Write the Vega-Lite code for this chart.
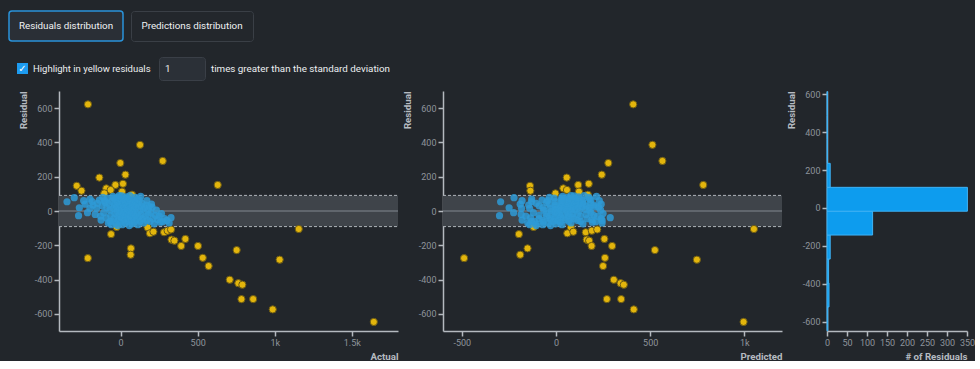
{
"$schema":"https://vega.github.io/schema/vega-lite/v6.json",
"background":"#22262b",
"padding":{"left":8,"top":10,"right":0,"bottom":0},
"spacing":9,
"datasets":{
"tab_active":[{"tab":"Residuals distribution"}],
"tab_inactive":[{"tab":"Predictions distribution"}],
"checkbox":[{"state":"checked","symbol":"✓"}],
"option_label":[{"text":"Highlight in yellow residuals"}],
"threshold":[{"value":"1"}],
"option_suffix":[{"text":"times greater than the standard deviation"}],
"band":[{"lower":-91,"upper":91}],
"hist":[{"bin_start":-649,"bin_end":-523,"count":2},{"bin_start":-523,"bin_end":-396,"count":5},{"bin_start":-396,"bin_end":-270,"count":4},{"bin_start":-270,"bin_end":-143,"count":8},{"bin_start":-143,"bin_end":-17,"count":114},{"bin_start":-17,"bin_end":109,"count":351},{"bin_start":109,"bin_end":236,"count":8},{"bin_start":236,"bin_end":362,"count":1},{"bin_start":362,"bin_end":489,"count":1},{"bin_start":489,"bin_end":615,"count":1}],
"points":[
{"actual":-212,"predicted":410,"residual":622,"group":"outside"},
{"actual":126,"predicted":512,"residual":386,"group":"outside"},
{"actual":273,"predicted":565,"residual":292,"group":"outside"},
{"actual":-2,"predicted":278,"residual":280,"group":"outside"},
{"actual":31,"predicted":243,"residual":212,"group":"outside"},
{"actual":-138,"predicted":57,"residual":195,"group":"outside"},
{"actual":-285,"predicted":-138,"residual":147,"group":"outside"},
{"actual":-254,"predicted":-136,"residual":118,"group":"outside"},
{"actual":15,"predicted":174,"residual":159,"group":"outside"},
{"actual":-34,"predicted":118,"residual":152,"group":"outside"},
{"actual":630,"predicted":782,"residual":152,"group":"outside"},
{"actual":-93,"predicted":39,"residual":132,"group":"outside"},
{"actual":-65,"predicted":58,"residual":123,"group":"outside"},
{"actual":-106,"predicted":-3,"residual":103,"group":"outside"},
{"actual":9,"predicted":122,"residual":113,"group":"outside"},
{"actual":74,"predicted":169,"residual":95,"group":"outside"},
{"actual":-26,"predicted":-119,"residual":-93,"group":"outside"},
{"actual":-62,"predicted":-197,"residual":-135,"group":"outside"},
{"actual":175,"predicted":79,"residual":-96,"group":"outside"},
{"actual":190,"predicted":60,"residual":-130,"group":"outside"},
{"actual":213,"predicted":92,"residual":-121,"group":"outside"},
{"actual":282,"predicted":158,"residual":-124,"group":"outside"},
{"actual":305,"predicted":190,"residual":-115,"group":"outside"},
{"actual":327,"predicted":219,"residual":-108,"group":"outside"},
{"actual":330,"predicted":163,"residual":-167,"group":"outside"},
{"actual":349,"predicted":176,"residual":-173,"group":"outside"},
{"actual":420,"predicted":257,"residual":-163,"group":"outside"},
{"actual":393,"predicted":189,"residual":-204,"group":"outside"},
{"actual":502,"predicted":298,"residual":-204,"group":"outside"},
{"actual":67,"predicted":-151,"residual":-218,"group":"outside"},
{"actual":65,"predicted":-190,"residual":-255,"group":"outside"},
{"actual":-213,"predicted":-488,"residual":-275,"group":"outside"},
{"actual":533,"predicted":260,"residual":-273,"group":"outside"},
{"actual":571,"predicted":250,"residual":-321,"group":"outside"},
{"actual":753,"predicted":525,"residual":-228,"group":"outside"},
{"actual":708,"predicted":307,"residual":-401,"group":"outside"},
{"actual":764,"predicted":343,"residual":-421,"group":"outside"},
{"actual":790,"predicted":360,"residual":-430,"group":"outside"},
{"actual":784,"predicted":270,"residual":-514,"group":"outside"},
{"actual":860,"predicted":346,"residual":-514,"group":"outside"},
{"actual":987,"predicted":413,"residual":-574,"group":"outside"},
{"actual":1032,"predicted":748,"residual":-284,"group":"outside"},
{"actual":1156,"predicted":1051,"residual":-105,"group":"outside"},
{"actual":1643,"predicted":996,"residual":-647,"group":"outside"},
{"actual":-348,"predicted":-294,"residual":54,"group":"inside"},
{"actual":-301,"predicted":-223,"residual":78,"group":"inside"},
{"actual":-268,"predicted":-249,"residual":19,"group":"inside"},
{"actual":-273,"predicted":-300,"residual":-27,"group":"inside"},
{"actual":-199,"predicted":-129,"residual":70,"group":"inside"},
{"actual":-199,"predicted":-183,"residual":16,"group":"inside"},
{"actual":-138,"predicted":-74,"residual":64,"group":"inside"},
{"actual":-156,"predicted":-140,"residual":16,"group":"inside"},
{"actual":-127,"predicted":-180,"residual":-53,"group":"inside"},
{"actual":-180,"predicted":-145,"residual":35,"group":"inside"},
{"actual":-165,"predicted":-185,"residual":-20,"group":"inside"},
{"actual":-150,"predicted":-105,"residual":45,"group":"inside"},
{"actual":-120,"predicted":-90,"residual":30,"group":"inside"},
{"actual":-110,"predicted":-120,"residual":-10,"group":"inside"},
{"actual":-105,"predicted":-45,"residual":60,"group":"inside"},
{"actual":-95,"predicted":-135,"residual":-40,"group":"inside"},
{"actual":-90,"predicted":-70,"residual":20,"group":"inside"},
{"actual":-85,"predicted":-10,"residual":75,"group":"inside"},
{"actual":-80,"predicted":-150,"residual":-70,"group":"inside"},
{"actual":-75,"predicted":-35,"residual":40,"group":"inside"},
{"actual":-70,"predicted":-65,"residual":5,"group":"inside"},
{"actual":-65,"predicted":-90,"residual":-25,"group":"inside"},
{"actual":-60,"predicted":-5,"residual":55,"group":"inside"},
{"actual":-55,"predicted":-115,"residual":-60,"group":"inside"},
{"actual":-50,"predicted":35,"residual":85,"group":"inside"},
{"actual":-48,"predicted":-33,"residual":15,"group":"inside"},
{"actual":-45,"predicted":-90,"residual":-45,"group":"inside"},
{"actual":-40,"predicted":-5,"residual":35,"group":"inside"},
{"actual":-38,"predicted":-53,"residual":-15,"group":"inside"},
{"actual":-35,"predicted":30,"residual":65,"group":"inside"},
{"actual":-30,"predicted":-105,"residual":-75,"group":"inside"},
{"actual":-28,"predicted":-3,"residual":25,"group":"inside"},
{"actual":-25,"predicted":-25,"residual":0,"group":"inside"},
{"actual":-22,"predicted":28,"residual":50,"group":"inside"},
{"actual":-20,"predicted":-50,"residual":-30,"group":"inside"},
{"actual":-18,"predicted":62,"residual":80,"group":"inside"},
{"actual":-15,"predicted":-70,"residual":-55,"group":"inside"},
{"actual":-12,"predicted":-2,"residual":10,"group":"inside"},
{"actual":-10,"predicted":30,"residual":40,"group":"inside"},
{"actual":-8,"predicted":-28,"residual":-20,"group":"inside"},
{"actual":-5,"predicted":65,"residual":70,"group":"inside"},
{"actual":-3,"predicted":-68,"residual":-65,"group":"inside"},
{"actual":0,"predicted":30,"residual":30,"group":"inside"},
{"actual":0,"predicted":-5,"residual":-5,"group":"inside"},
{"actual":2,"predicted":57,"residual":55,"group":"inside"},
{"actual":4,"predicted":-36,"residual":-40,"group":"inside"},
{"actual":6,"predicted":21,"residual":15,"group":"inside"},
{"actual":8,"predicted":96,"residual":88,"group":"inside"},
{"actual":10,"predicted":-70,"residual":-80,"group":"inside"},
{"actual":12,"predicted":57,"residual":45,"group":"inside"},
{"actual":14,"predicted":4,"residual":-10,"group":"inside"},
{"actual":16,"predicted":36,"residual":20,"group":"inside"},
{"actual":18,"predicted":83,"residual":65,"group":"inside"},
{"actual":20,"predicted":-30,"residual":-50,"group":"inside"},
{"actual":22,"predicted":27,"residual":5,"group":"inside"},
{"actual":24,"predicted":99,"residual":75,"group":"inside"},
{"actual":26,"predicted":-4,"residual":-30,"group":"inside"},
{"actual":28,"predicted":63,"residual":35,"group":"inside"},
{"actual":30,"predicted":-40,"residual":-70,"group":"inside"},
{"actual":32,"predicted":82,"residual":50,"group":"inside"},
{"actual":34,"predicted":19,"residual":-15,"group":"inside"},
{"actual":36,"predicted":61,"residual":25,"group":"inside"},
{"actual":38,"predicted":120,"residual":82,"group":"inside"},
{"actual":40,"predicted":-5,"residual":-45,"group":"inside"},
{"actual":42,"predicted":52,"residual":10,"group":"inside"},
{"actual":44,"predicted":104,"residual":60,"group":"inside"},
{"actual":46,"predicted":-14,"residual":-60,"group":"inside"},
{"actual":48,"predicted":78,"residual":30,"group":"inside"},
{"actual":50,"predicted":25,"residual":-25,"group":"inside"},
{"actual":52,"predicted":122,"residual":70,"group":"inside"},
{"actual":54,"predicted":54,"residual":0,"group":"inside"},
{"actual":56,"predicted":-29,"residual":-85,"group":"inside"},
{"actual":58,"predicted":98,"residual":40,"group":"inside"},
{"actual":60,"predicted":25,"residual":-35,"group":"inside"},
{"actual":62,"predicted":77,"residual":15,"group":"inside"},
{"actual":64,"predicted":119,"residual":55,"group":"inside"},
{"actual":66,"predicted":11,"residual":-55,"group":"inside"},
{"actual":68,"predicted":88,"residual":20,"group":"inside"},
{"actual":70,"predicted":60,"residual":-10,"group":"inside"},
{"actual":72,"predicted":117,"residual":45,"group":"inside"},
{"actual":74,"predicted":-1,"residual":-75,"group":"inside"},
{"actual":76,"predicted":106,"residual":30,"group":"inside"},
{"actual":78,"predicted":38,"residual":-40,"group":"inside"},
{"actual":80,"predicted":85,"residual":5,"group":"inside"},
{"actual":82,"predicted":144,"residual":62,"group":"inside"},
{"actual":84,"predicted":64,"residual":-20,"group":"inside"},
{"actual":86,"predicted":121,"residual":35,"group":"inside"},
{"actual":88,"predicted":23,"residual":-65,"group":"inside"},
{"actual":90,"predicted":100,"residual":10,"group":"inside"},
{"actual":92,"predicted":142,"residual":50,"group":"inside"},
{"actual":95,"predicted":65,"residual":-30,"group":"inside"},
{"actual":98,"predicted":118,"residual":20,"group":"inside"},
{"actual":100,"predicted":50,"residual":-50,"group":"inside"},
{"actual":103,"predicted":143,"residual":40,"group":"inside"},
{"actual":106,"predicted":91,"residual":-15,"group":"inside"},
{"actual":109,"predicted":179,"residual":70,"group":"inside"},
{"actual":112,"predicted":32,"residual":-80,"group":"inside"},
{"actual":115,"predicted":140,"residual":25,"group":"inside"},
{"actual":118,"predicted":83,"residual":-35,"group":"inside"},
{"actual":121,"predicted":185,"residual":64,"group":"inside"},
{"actual":124,"predicted":124,"residual":0,"group":"inside"},
{"actual":127,"predicted":67,"residual":-60,"group":"inside"},
{"actual":130,"predicted":160,"residual":30,"group":"inside"},
{"actual":134,"predicted":114,"residual":-20,"group":"inside"},
{"actual":138,"predicted":183,"residual":45,"group":"inside"},
{"actual":142,"predicted":97,"residual":-45,"group":"inside"},
{"actual":146,"predicted":156,"residual":10,"group":"inside"},
{"actual":150,"predicted":80,"residual":-70,"group":"inside"},
{"actual":155,"predicted":175,"residual":20,"group":"inside"},
{"actual":160,"predicted":130,"residual":-30,"group":"inside"},
{"actual":165,"predicted":200,"residual":35,"group":"inside"},
{"actual":170,"predicted":115,"residual":-55,"group":"inside"},
{"actual":175,"predicted":180,"residual":5,"group":"inside"},
{"actual":180,"predicted":160,"residual":-20,"group":"inside"},
{"actual":185,"predicted":210,"residual":25,"group":"inside"},
{"actual":190,"predicted":130,"residual":-60,"group":"inside"},
{"actual":195,"predicted":185,"residual":-10,"group":"inside"},
{"actual":204,"predicted":226,"residual":22,"group":"inside"},
{"actual":210,"predicted":165,"residual":-45,"group":"inside"},
{"actual":218,"predicted":143,"residual":-75,"group":"inside"},
{"actual":225,"predicted":200,"residual":-25,"group":"inside"},
{"actual":232,"predicted":237,"residual":5,"group":"inside"},
{"actual":240,"predicted":190,"residual":-50,"group":"inside"},
{"actual":250,"predicted":220,"residual":-30,"group":"inside"},
{"actual":258,"predicted":193,"residual":-65,"group":"inside"},
{"actual":265,"predicted":250,"residual":-15,"group":"inside"},
{"actual":273,"predicted":211,"residual":-62,"group":"inside"},
{"actual":285,"predicted":240,"residual":-45,"group":"inside"},
{"actual":300,"predicted":245,"residual":-55,"group":"inside"},
{"actual":315,"predicted":245,"residual":-70,"group":"inside"},
{"actual":327,"predicted":288,"residual":-39,"group":"inside"},
{"actual":-230,"predicted":-190,"residual":40,"group":"inside"},
{"actual":-240,"predicted":-180,"residual":60,"group":"inside"},
{"actual":-215,"predicted":-225,"residual":-10,"group":"inside"},
{"actual":-185,"predicted":-130,"residual":55,"group":"inside"},
{"actual":-130,"predicted":-160,"residual":-30,"group":"inside"},
{"actual":-100,"predicted":-50,"residual":50,"group":"inside"},
{"actual":-60,"predicted":-140,"residual":-80,"group":"inside"},
{"actual":-45,"predicted":30,"residual":75,"group":"inside"},
{"actual":-20,"predicted":-105,"residual":-85,"group":"inside"},
{"actual":130,"predicted":215,"residual":85,"group":"inside"},
{"actual":60,"predicted":150,"residual":90,"group":"inside"},
{"actual":-10,"predicted":80,"residual":90,"group":"inside"},
{"actual":95,"predicted":175,"residual":80,"group":"inside"},
{"actual":170,"predicted":230,"residual":60,"group":"inside"},
{"actual":-115,"predicted":-35,"residual":80,"group":"inside"},
{"actual":-70,"predicted":-130,"residual":-60,"group":"inside"},
{"actual":200,"predicted":240,"residual":40,"group":"inside"}
]
},
"vconcat":[
{"spacing":14,"vconcat":[
{"spacing":6,"hconcat":[
 {"width":114,"height":30,"data":{"name":"tab_active"},"view":{"fill":"#2a2f36","stroke":"#2a93da","strokeWidth":1.5,"cornerRadius":3},
  "mark":{"type":"text","fontSize":9.8,"fontWeight":"normal","color":"#f0f2f4"},"encoding":{"text":{"field":"tab"}}},
 {"width":122,"height":30,"data":{"name":"tab_inactive"},"view":{"fill":"#23272c","stroke":"#3a3f46","strokeWidth":1,"cornerRadius":3},
  "mark":{"type":"text","fontSize":9.8,"fontWeight":"normal","color":"#f0f2f4"},"encoding":{"text":{"field":"tab"}}}
]},
{"spacing":5,"hconcat":[
 {"width":19,"height":23,"data":{"name":"checkbox"},"layer":[
  {"mark":{"type":"point","shape":"square","filled":true,"size":121,"color":"#1d9bf0","opacity":1},
   "encoding":{"x":{"field":"state","type":"nominal","scale":{"align":0.71},"axis":null}}},
  {"mark":{"type":"text","fontSize":10,"fontWeight":"bold","color":"#ffffff","font":"DejaVu Sans"},
   "encoding":{"x":{"field":"state","type":"nominal","scale":{"align":0.71},"axis":null},"text":{"field":"symbol"}}}
 ]},
 {"width":120,"height":23,"data":{"name":"option_label"},"mark":{"type":"text","align":"left","fontSize":9.5,"fontWeight":"normal","color":"#eceef0"},
  "encoding":{"x":{"field":"text","type":"nominal","scale":{"align":0},"axis":null},"text":{"field":"text"}}},
 {"width":46,"height":23,"data":{"name":"threshold"},"view":{"fill":"#2b3037","stroke":"#3a3f47","cornerRadius":3},
  "mark":{"type":"text","align":"left","fontSize":9.8,"fontWeight":"normal","color":"#eceef0"},
  "encoding":{"x":{"field":"value","type":"nominal","scale":{"align":0.13},"axis":null},"text":{"field":"value"}}},
 {"width":180,"height":23,"data":{"name":"option_suffix"},"mark":{"type":"text","align":"left","fontSize":9.8,"fontWeight":"normal","color":"#eceef0"},
  "encoding":{"x":{"field":"text","type":"nominal","scale":{"align":0},"axis":null},"text":{"field":"text"}}}
]}
]},
{"spacing":3,"hconcat":[
 {"width":6,"height":240,"data":{"values":[]},"mark":"point"},
 {"width":339,"height":240,"layer":[
  {"data":{"name":"band"},"mark":{"type":"rect","color":"#3f444a"},
   "encoding":{"x":{"datum":-400,"type":"quantitative","title":"Actual","scale":{"domain":[-400,1800],"nice":false,"zero":false},"axis":{"values":[0,500,1000,1500]}},"x2":{"datum":1800},
    "y":{"field":"lower","type":"quantitative","title":"Residual","scale":{"domain":[-700,700],"nice":false,"zero":false},"axis":{"values":[-600,-400,-200,0,200,400,600]}},"y2":{"field":"upper"}}},
  {"data":{"name":"band"},"mark":{"type":"rule","color":"#60666d","strokeWidth":2},
   "encoding":{"x":{"datum":-400,"type":"quantitative","title":"Actual","scale":{"domain":[-400,1800],"nice":false,"zero":false},"axis":{"values":[0,500,1000,1500]}},"x2":{"datum":1800},
    "y":{"datum":0,"type":"quantitative","title":"Residual","scale":{"domain":[-700,700],"nice":false,"zero":false},"axis":{"values":[-600,-400,-200,0,200,400,600]}}}},
  {"data":{"name":"band"},"mark":{"type":"rule","color":"#aeb3b9","strokeWidth":1,"strokeDash":[3,2]},
   "encoding":{"x":{"datum":-400,"type":"quantitative","title":"Actual","scale":{"domain":[-400,1800],"nice":false,"zero":false},"axis":{"values":[0,500,1000,1500]}},"x2":{"datum":1800},
    "y":{"field":"lower","type":"quantitative","title":"Residual","scale":{"domain":[-700,700],"nice":false,"zero":false},"axis":{"values":[-600,-400,-200,0,200,400,600]}}}},
  {"data":{"name":"band"},"mark":{"type":"rule","color":"#aeb3b9","strokeWidth":1,"strokeDash":[3,2]},
   "encoding":{"x":{"datum":-400,"type":"quantitative","title":"Actual","scale":{"domain":[-400,1800],"nice":false,"zero":false},"axis":{"values":[0,500,1000,1500]}},"x2":{"datum":1800},
    "y":{"field":"upper","type":"quantitative","title":"Residual","scale":{"domain":[-700,700],"nice":false,"zero":false},"axis":{"values":[-600,-400,-200,0,200,400,600]}}}},
  {"data":{"name":"points"},"mark":{"type":"circle","size":52,"stroke":"#6b5a14"},
   "encoding":{"x":{"field":"actual","type":"quantitative","title":"Actual","scale":{"domain":[-400,1800],"nice":false,"zero":false},"axis":{"values":[0,500,1000,1500]}},
    "y":{"field":"residual","type":"quantitative","title":"Residual","scale":{"domain":[-700,700],"nice":false,"zero":false},"axis":{"values":[-600,-400,-200,0,200,400,600]}},
    "color":{"field":"group","type":"nominal","scale":{"domain":["outside","inside"],"range":["#e3b50c","#2e9ad6"]},"legend":null},
    "opacity":{"field":"group","type":"nominal","scale":{"domain":["outside","inside"],"range":[1,0.85]},"legend":null},
    "strokeWidth":{"field":"group","type":"nominal","scale":{"domain":["outside","inside"],"range":[1,0]},"legend":null}}}
 ]},
 {"width":339,"height":240,"layer":[
  {"data":{"name":"band"},"mark":{"type":"rect","color":"#3f444a"},
   "encoding":{"x":{"datum":-600,"type":"quantitative","title":"Predicted","scale":{"domain":[-600,1200],"nice":false,"zero":false},"axis":{"values":[-500,0,500,1000]}},"x2":{"datum":1200},
    "y":{"field":"lower","type":"quantitative","title":"Residual","scale":{"domain":[-700,700],"nice":false,"zero":false},"axis":{"values":[-600,-400,-200,0,200,400,600]}},"y2":{"field":"upper"}}},
  {"data":{"name":"band"},"mark":{"type":"rule","color":"#60666d","strokeWidth":2},
   "encoding":{"x":{"datum":-600,"type":"quantitative","title":"Predicted","scale":{"domain":[-600,1200],"nice":false,"zero":false},"axis":{"values":[-500,0,500,1000]}},"x2":{"datum":1200},
    "y":{"datum":0,"type":"quantitative","title":"Residual","scale":{"domain":[-700,700],"nice":false,"zero":false},"axis":{"values":[-600,-400,-200,0,200,400,600]}}}},
  {"data":{"name":"band"},"mark":{"type":"rule","color":"#aeb3b9","strokeWidth":1,"strokeDash":[3,2]},
   "encoding":{"x":{"datum":-600,"type":"quantitative","title":"Predicted","scale":{"domain":[-600,1200],"nice":false,"zero":false},"axis":{"values":[-500,0,500,1000]}},"x2":{"datum":1200},
    "y":{"field":"lower","type":"quantitative","title":"Residual","scale":{"domain":[-700,700],"nice":false,"zero":false},"axis":{"values":[-600,-400,-200,0,200,400,600]}}}},
  {"data":{"name":"band"},"mark":{"type":"rule","color":"#aeb3b9","strokeWidth":1,"strokeDash":[3,2]},
   "encoding":{"x":{"datum":-600,"type":"quantitative","title":"Predicted","scale":{"domain":[-600,1200],"nice":false,"zero":false},"axis":{"values":[-500,0,500,1000]}},"x2":{"datum":1200},
    "y":{"field":"upper","type":"quantitative","title":"Residual","scale":{"domain":[-700,700],"nice":false,"zero":false},"axis":{"values":[-600,-400,-200,0,200,400,600]}}}},
  {"data":{"name":"points"},"mark":{"type":"circle","size":52,"stroke":"#6b5a14"},
   "encoding":{"x":{"field":"predicted","type":"quantitative","title":"Predicted","scale":{"domain":[-600,1200],"nice":false,"zero":false},"axis":{"values":[-500,0,500,1000]}},
    "y":{"field":"residual","type":"quantitative","title":"Residual","scale":{"domain":[-700,700],"nice":false,"zero":false},"axis":{"values":[-600,-400,-200,0,200,400,600]}},
    "color":{"field":"group","type":"nominal","scale":{"domain":["outside","inside"],"range":["#e3b50c","#2e9ad6"]},"legend":null},
    "opacity":{"field":"group","type":"nominal","scale":{"domain":["outside","inside"],"range":[1,0.85]},"legend":null},
    "strokeWidth":{"field":"group","type":"nominal","scale":{"domain":["outside","inside"],"range":[1,0]},"legend":null}}}
 ]},
 {"width":140,"height":240,"data":{"name":"hist"},
  "mark":{"type":"rect","fill":"#0d9cee","stroke":"#3fb3f6","strokeWidth":1},
  "encoding":{
   "x":{"field":"count","type":"quantitative","title":"# of Residuals","scale":{"domain":[0,350],"nice":false},"axis":{"values":[0,50,100,150,200,250,300,350],"labelOverlap":false}},
   "x2":{"datum":0},
   "y":{"field":"bin_start","type":"quantitative","title":"Residual","scale":{"domain":[-650,618],"nice":false,"zero":false},"axis":{"values":[-600,-400,-200,0,200,400,600]}},
   "y2":{"field":"bin_end"}}}
]}
],
"config":{
 "font":"Roboto",
 "view":{"stroke":null},
 "axis":{"domainColor":"#b4b9bf","domainWidth":1.5,"tickColor":"#b4b9bf","tickWidth":1.5,"tickSize":5,
  "labelColor":"#8e949b","labelFontSize":9,"labelPadding":2,"labelFlush":false,
  "labelExpr":"abs(datum.value) >= 1000 ? format(datum.value / 1000, '~g') + 'k' : (datum.value < 0 ? '-' + format(-datum.value, 'd') : format(datum.value, 'd'))",
  "titleColor":"#b6bbc1","titleFontSize":9.7,"titleFontWeight":"bold","titleAnchor":"end","grid":false},
 "axisY":{"titlePadding":6},
 "axisX":{"titlePadding":4}
}
}
